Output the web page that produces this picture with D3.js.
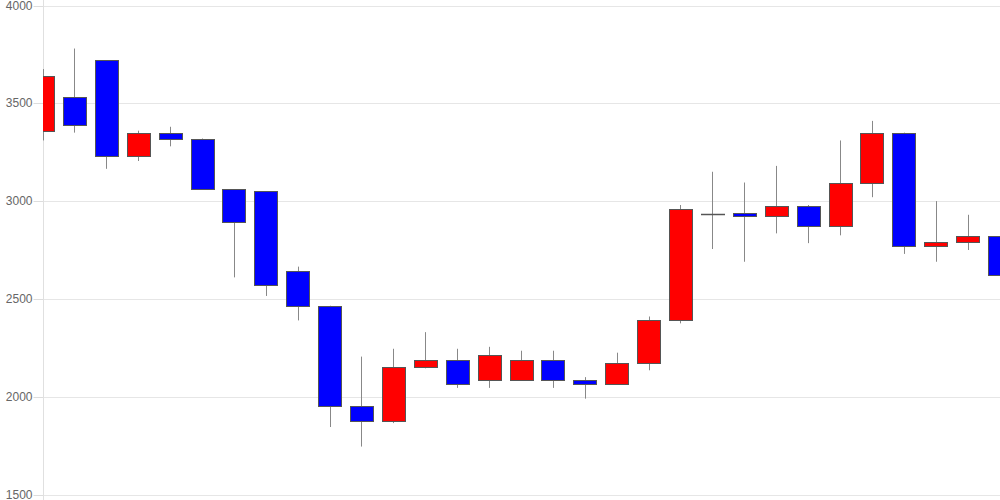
<!DOCTYPE html>
<html>
<head>
<meta charset="utf-8">
<script src="https://cdn.jsdelivr.net/npm/d3@7"></script>
<style>
  html, body { margin: 0; padding: 0; background: #fff; }
  svg { display: block; }
</style>
</head>
<body>
<svg id="chart" width="1000" height="500"></svg>
<script>
// Daily candles (index order, left to right)
const days = d3.range(31);
const openVals  = [3360, 3530, 3720, 3230, 3350, 3320, 3060, 3050, 2645, 2465, 1950, 1875, 2150, 2190, 2085, 2085, 2190, 2085, 2065, 2170, 2390, 2935, 2940, 2925, 2975, 2875, 3095, 3350, 2770, 2790, 2820];
const highVals  = [3675, 3780, 3720, 3360, 3380, 3320, 3060, 3050, 2665, 2465, 2205, 2245, 2330, 2245, 2255, 2235, 2235, 2100, 2225, 2410, 2980, 3150, 3095, 3180, 2980, 3310, 3410, 3350, 3000, 2930, 2820];
const lowVals   = [3310, 3350, 3165, 3205, 3280, 3060, 2610, 2515, 2390, 1845, 1745, 1865, 2145, 2045, 2045, 2085, 2045, 1990, 2065, 2135, 2375, 2755, 2690, 2835, 2785, 2825, 3020, 2730, 2690, 2750, 2525];
const closeVals = [3640, 3390, 3230, 3350, 3320, 3060, 2895, 2570, 2465, 1950, 1875, 2150, 2190, 2065, 2215, 2190, 2085, 2065, 2170, 2390, 2960, 2935, 2925, 2975, 2875, 3095, 3350, 2770, 2790, 2820, 2620];
const yTicks = [1500, 2000, 2500, 3000, 3500, 4000];

(function () {
const data = days.map((d, i) => ({
  i: d, open: openVals[i], high: highVals[i], low: lowVals[i], close: closeVals[i]
}));

const svg = d3.select("#chart");
const plotLeft = 43, plotRight = 1000, plotTop = 5.5, plotBottom = 494.5;

const x = d3.scaleLinear().domain([0, 30]).range([42.5, 999.5]);
const y = d3.scaleLinear().domain([1500, 4000]).range([plotBottom, plotTop]);
const bodyW = 23;
const py = v => Math.round(y(v)) + 0.5;

// gridlines
svg.append("g").selectAll("line").data(yTicks).join("line")
  .attr("x1", plotLeft).attr("x2", plotRight)
  .attr("y1", py).attr("y2", py)
  .attr("stroke", "#e6e6e6").attr("stroke-width", 1);

// y axis
const axis = d3.axisLeft(y).tickValues(yTicks).tickSize(10).tickPadding(1).tickFormat(d3.format("d"));
const gAxis = svg.append("g").attr("transform", `translate(${plotLeft + 0.5},0)`).call(axis);
gAxis.select(".domain").remove();
gAxis.selectAll(".tick line").attr("stroke", "#dddddd");
gAxis.selectAll(".tick").attr("transform", d => `translate(0,${py(d)})`);
gAxis.selectAll(".tick text")
  .attr("fill", "#666666")
  .attr("font-family", "'Liberation Sans', Arial, sans-serif")
  .attr("font-size", 12);
svg.append("line")
  .attr("x1", plotLeft + 0.5).attr("x2", plotLeft + 0.5)
  .attr("y1", 0).attr("y2", 500)
  .attr("stroke", "#e0e0e0");

// clip
svg.append("clipPath").attr("id", "plotclip")
  .append("rect").attr("x", plotLeft).attr("y", 0).attr("width", plotRight - plotLeft).attr("height", 500);

const g = svg.append("g").attr("clip-path", "url(#plotclip)");

const cx = d => Math.round(x(d.i)) + 0.5;

// wicks
g.selectAll("line.wick").data(data).join("line")
  .attr("class", "wick")
  .attr("x1", cx).attr("x2", cx)
  .attr("y1", d => y(d.high)).attr("y2", d => y(d.low))
  .attr("stroke", "#888888").attr("stroke-width", 1);

// bodies (open != close)
g.selectAll("rect.body").data(data.filter(d => d.open !== d.close)).join("rect")
  .attr("class", "body")
  .attr("x", d => Math.round(x(d.i) - bodyW / 2) + 0.5)
  .attr("width", bodyW)
  .attr("y", d => py(Math.max(d.open, d.close)))
  .attr("height", d => Math.max(1, Math.round(y(Math.min(d.open, d.close))) - Math.round(y(Math.max(d.open, d.close)))))
  .attr("fill", d => d.close > d.open ? "#ff0000" : "#0000ff")
  .attr("stroke", "#555555").attr("stroke-width", 1);

// doji (open == close): horizontal line
g.selectAll("line.doji").data(data.filter(d => d.open === d.close)).join("line")
  .attr("class", "doji")
  .attr("x1", d => Math.round(x(d.i) - bodyW / 2))
  .attr("x2", d => Math.round(x(d.i) - bodyW / 2) + bodyW + 1)
  .attr("y1", d => py(d.open)).attr("y2", d => py(d.open))
  .attr("stroke", "#555555").attr("stroke-width", 1.5);
})();
</script>
</body>
</html>
